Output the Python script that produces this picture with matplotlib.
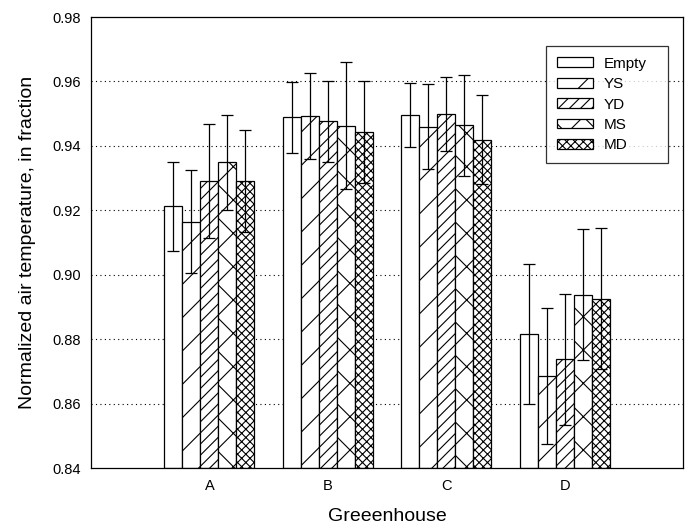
import numpy as np
import matplotlib
matplotlib.use("Agg")
import matplotlib.pyplot as plt

plt.rcParams["font.family"] = ["Liberation Sans", "DejaVu Sans"]
plt.rcParams["hatch.linewidth"] = 0.8

# mean normalized temperature per greenhouse and treatment
greenhouses = ["A", "B", "C", "D"]
treatments = ["Empty", "YS", "YD", "MS", "MD"]
hatches = ["", "/", "///", "x", "xxxx"]

empty_mean = [0.9212, 0.9489, 0.9495, 0.8817]
ys_mean = [0.9165, 0.9493, 0.9460, 0.8686]
yd_mean = [0.9290, 0.9476, 0.9500, 0.8737]
ms_mean = [0.9349, 0.9462, 0.9464, 0.8938]
md_mean = [0.9290, 0.9443, 0.9419, 0.8925]

empty_err = [0.0139, 0.0110, 0.0100, 0.0217]
ys_err = [0.0160, 0.0134, 0.0131, 0.0210]
yd_err = [0.0177, 0.0125, 0.0115, 0.0202]
ms_err = [0.0148, 0.0197, 0.0157, 0.0204]
md_err = [0.0158, 0.0157, 0.0138, 0.0219]

means = [empty_mean, ys_mean, yd_mean, ms_mean, md_mean]
errs = [empty_err, ys_err, yd_err, ms_err, md_err]

fig = plt.figure(figsize=(6.91, 5.28), dpi=100)
ax = fig.add_axes([0.1317, 0.1136, 0.8567, 0.8542])

x = np.arange(1, len(greenhouses) + 1)
width = 0.152
base = 0.84

for i, (name, m, e, h) in enumerate(zip(treatments, means, errs, hatches)):
    pos = x + (i - 2) * width
    heights = np.array(m) - base
    ax.bar(pos, heights, width, bottom=base, color="white", edgecolor="black",
           linewidth=0.9, hatch=h, label=name, zorder=2)
    ax.errorbar(pos, m, yerr=e, fmt="none", ecolor="black", elinewidth=0.9,
                capsize=4.5, capthick=0.9, zorder=3)

ax.set_xlim(0, 5)
ax.set_ylim(0.84, 0.98)
ax.set_xticks(x)
ax.set_xticklabels(greenhouses)
ax.set_yticks(np.arange(0.84, 0.981, 0.02))
ax.yaxis.set_major_formatter(matplotlib.ticker.FormatStrFormatter("%.2f"))
ax.tick_params(axis="both", length=0, labelsize=10.5)
ax.tick_params(axis="y", pad=7)
ax.tick_params(axis="x", pad=8)

# dotted horizontal guides
for yv in np.arange(0.86, 0.97, 0.02):
    ax.axhline(yv, color="black", linestyle=(0, (1, 3)), linewidth=0.8, zorder=1)

for sp in ax.spines.values():
    sp.set_linewidth(0.9)

ax.set_ylabel("Normalized air temperature, in fraction", fontsize=14, labelpad=12)
ax.set_xlabel("Greeenhouse", fontsize=14, labelpad=11)

# legend box stretched to a fixed width in the upper right
leg = ax.legend(loc="upper left", bbox_to_anchor=(0.7686, 0.9357, 0.2061, 0.0),
                mode="expand", borderaxespad=0,
                fontsize=11, frameon=True, fancybox=False, handlelength=2.4,
                handleheight=0.6, labelspacing=0.42, borderpad=0.7,
                handletextpad=0.7)
leg.get_frame().set_edgecolor("black")
leg.get_frame().set_linewidth(0.9)

fig.savefig("out.png", dpi=100)
